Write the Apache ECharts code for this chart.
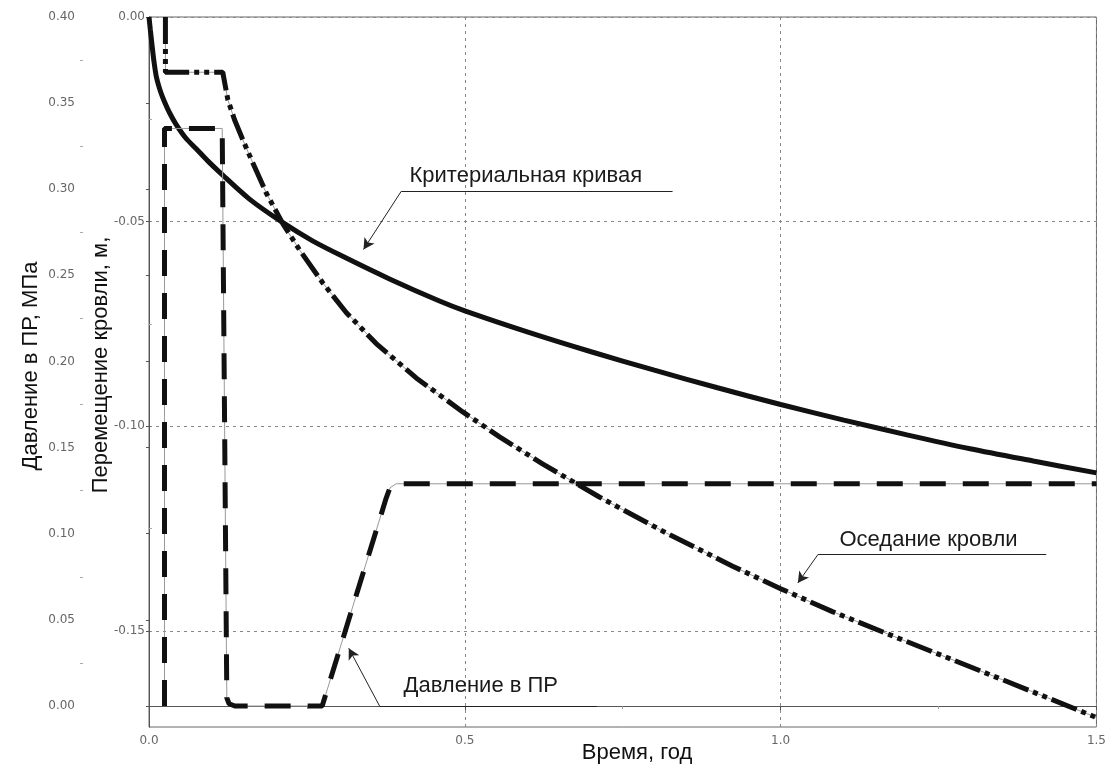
<!DOCTYPE html>
<html>
<head>
<meta charset="utf-8">
<script src="https://cdn.jsdelivr.net/npm/echarts@6/dist/echarts.min.js"></script>
<style>
html,body{margin:0;padding:0;background:#fff;}
#chart{width:1109px;height:767px;}
</style>
</head>
<body>
<div id="chart"></div>
<script>
/* время, год */
var timeCrit = [0, 0.0021, 0.0047, 0.0079, 0.0119, 0.0182, 0.0245, 0.0325, 0.0431, 0.0578, 0.0747, 0.0926, 0.1116, 0.1591, 0.2114, 0.2589, 0.3122, 0.3808, 0.4599, 0.5, 0.6, 0.7, 0.8, 0.9, 1.0, 1.1, 1.2, 1.3, 1.4, 1.5];
/* критериальная кривая, м */
var dispCrit = [0, -0.0031, -0.0067, -0.0109, -0.0148, -0.0182, -0.0207, -0.0234, -0.0263, -0.0295, -0.0322, -0.0351, -0.0379, -0.0445, -0.0502, -0.0547, -0.0589, -0.064, -0.0694, -0.0718, -0.077, -0.0818, -0.0863, -0.0906, -0.0947, -0.0985, -0.1021, -0.1055, -0.1085, -0.1114];

var timeSettle = [0.026, 0.026, 0.1168, 0.1248, 0.1354, 0.1485, 0.1591, 0.1856, 0.2118, 0.2383, 0.2752, 0.3122, 0.3597, 0.423, 0.4968, 0.555, 0.623, 0.713, 0.819, 0.924, 1.0, 1.082, 1.188, 1.294, 1.399, 1.494, 1.5];
/* оседание кровли, м */
var dispSettle = [0, -0.0135, -0.0135, -0.0202, -0.0251, -0.03, -0.0338, -0.043, -0.0505, -0.0569, -0.065, -0.0722, -0.0798, -0.0882, -0.0965, -0.1026, -0.1092, -0.1173, -0.1261, -0.1342, -0.1397, -0.1453, -0.1519, -0.1584, -0.1649, -0.1708, -0.1712];

var timePress = [0.0245, 0.0245, 0.1159, 0.1232, 0.1268, 0.1358, 0.2742, 0.3755, 0.3816, 0.3914, 1.5];
/* давление в ПР, МПа */
var press = [0, 0.3353, 0.3353, 0.0047, 0.0013, 0, 0, 0.1207, 0.1267, 0.129, 0.129];

/* подписи осей */
var xTicks = [0, 0.5, 1.0, 1.5];
var pressTicks = [0, 0.05, 0.10, 0.15, 0.20, 0.25, 0.30, 0.35, 0.40];
var pressMinor = [0.025, 0.075, 0.125, 0.175, 0.225, 0.275, 0.325, 0.375];
var dispTicks = [-0.15, -0.10, -0.05, 0];
var dispMinor = [-0.125, -0.075, -0.025];

/* выноски: [подпись, текст(t,y), излом(t,y), конец полки t, стрелка(t,y)] */
var noteCrit = ['Критериальная кривая', [0.4124, -0.0388], [0.3993, -0.0426], 0.8289, [0.3396, -0.0568]];
var noteSettle = ['Оседание кровли', [1.0931, -0.1278], [1.0589, -0.1314], 1.4205, [1.0272, -0.1383]];
var notePress = ['Давление в ПР', [0.403, 0.0116], [0.365, 0.0], 0.7092, [0.3163, 0.0335]];

function zip(a, b) {
    var r = [];
    for (var i = 0; i < a.length; i++) r.push([a[i], b[i]]);
    return r;
}

var font = '"Liberation Sans", Arial, sans-serif';
var tickFont = {color: '#666', fontSize: 12, fontFamily: '"DejaVu Sans", Verdana, sans-serif'};

//линии выносок
function noteLines(n) {
    return [
        [{coord: n[2], symbol: 'none'}, {coord: [n[3], n[2][1]], symbol: 'none'}],
        [{coord: n[2], symbol: 'none'}, {coord: n[4], symbol: 'arrow'}]
    ];
}
//текст выносок
function notePoint(n) {
    return {coord: n[1], value: n[0], symbolSize: 0,
        label: {show: true, position: 'right', distance: 0, formatter: n[0],
            color: '#1a1a1a', fontSize: 22, fontFamily: font}};
}
var markLineBase = {
    silent: true, symbolSize: [9, 11], label: {show: false},
    lineStyle: {color: '#222', width: 1, type: 'solid'}, emphasis: {disabled: true}
};

function fmt2(v) { return Number(v).toFixed(2); }

var chart = echarts.init(document.getElementById('chart'));
chart.setOption({
    animation: false,
    backgroundColor: '#fff',
    grid: {left: 149, right: 12, top: 17, bottom: 40, show: true, borderColor: '#666', borderWidth: 1},
    xAxis: {
        type: 'value', min: 0, max: 1.5, interval: 0.5,
        axisLine: {lineStyle: {color: '#555'}},
        axisTick: {show: true, length: 4, lineStyle: {color: '#555'}},
        minorTick: {show: true, splitNumber: 2, length: 3, lineStyle: {color: '#999'}},
        axisLabel: Object.assign({margin: 8, formatter: function(v){ return v.toFixed(1); }}, tickFont),
        splitLine: {show: true, lineStyle: {color: '#888', type: [3, 4], width: 1}}
    },
    yAxis: [
        {   //давление
            type: 'value', position: 'left', offset: 69, min: -0.0122, max: 0.40,
            axisLine: {show: true, lineStyle: {color: '#555'}},
            axisTick: {show: true, length: 3, customValues: pressTicks, lineStyle: {color: '#555'}},
            axisLabel: Object.assign({margin: 5, customValues: pressTicks, formatter: fmt2}, tickFont),
            splitLine: {show: false}
        },
        {   //перемещение
            type: 'value', position: 'left', offset: 0, min: -0.1735, max: 0,
            axisLine: {show: true, lineStyle: {color: '#555'}},
            axisTick: {show: true, length: 3, customValues: dispTicks, lineStyle: {color: '#555'}},
            axisLabel: Object.assign({margin: 4, customValues: dispTicks, formatter: fmt2}, tickFont),
            splitLine: {show: true, lineStyle: {color: '#888', type: [3, 4], width: 1}}
        },
        {   //мелкие деления давления
            type: 'value', position: 'left', offset: 69, min: -0.0122, max: 0.40,
            axisLine: {show: false}, axisLabel: {show: false}, splitLine: {show: false},
            axisTick: {show: true, inside: true, length: 3, customValues: pressMinor, lineStyle: {color: '#aaa'}}
        },
        {   //мелкие деления перемещения
            type: 'value', position: 'left', offset: 0, min: -0.1735, max: 0,
            axisLine: {show: false}, axisLabel: {show: false}, splitLine: {show: false},
            axisTick: {show: true, inside: true, length: 3, customValues: dispMinor, lineStyle: {color: '#aaa'}}
        }
    ],
    series: [
        {
            name: 'Критериальная кривая', type: 'line', yAxisIndex: 1, showSymbol: false,
            smooth: 0.3,
            data: zip(timeCrit, dispCrit),
            lineStyle: {color: '#111', width: 5},
            markLine: Object.assign({data: noteLines(noteCrit).concat(noteLines(noteSettle))}, markLineBase),
            markPoint: {silent: true, data: [notePoint(noteCrit), notePoint(noteSettle)]}
        },
        {
            type: 'line', yAxisIndex: 1, showSymbol: false, silent: true,
            data: zip(timeSettle, dispSettle),
            lineStyle: {color: '#999', width: 1}
        },
        {
            name: 'Оседание кровли', type: 'line', yAxisIndex: 1, showSymbol: false,
            data: zip(timeSettle, dispSettle),
            lineStyle: {color: '#111', width: 5, type: [27, 5, 5, 5, 5, 5]}
        },
        {
            type: 'line', yAxisIndex: 0, showSymbol: false, silent: true,
            data: zip(timePress, press),
            lineStyle: {color: '#999', width: 1}
        },
        {
            name: 'Давление в ПР', type: 'line', yAxisIndex: 0, showSymbol: false,
            data: zip(timePress, press),
            lineStyle: {color: '#111', width: 5, type: [26, 17]},
            markLine: Object.assign({data: noteLines(notePress)}, markLineBase),
            markPoint: {silent: true, data: [notePoint(notePress)]}
        }
    ],
    graphic: [
        {type: 'text', x: 31, y: 366, rotation: Math.PI / 2,
            style: {text: 'Давление в ПР, МПа', fill: '#111', font: '22px ' + font, align: 'center', verticalAlign: 'middle'}},
        {type: 'text', x: 101, y: 365, rotation: Math.PI / 2,
            style: {text: 'Перемещение кровли, м,', fill: '#111', font: '22px ' + font, align: 'center', verticalAlign: 'middle'}},
        {type: 'text', x: 637, y: 753,
            style: {text: 'Время, год', fill: '#111', font: '22px ' + font, align: 'center', verticalAlign: 'middle'}}
    ]
});
</script>
</body>
</html>
